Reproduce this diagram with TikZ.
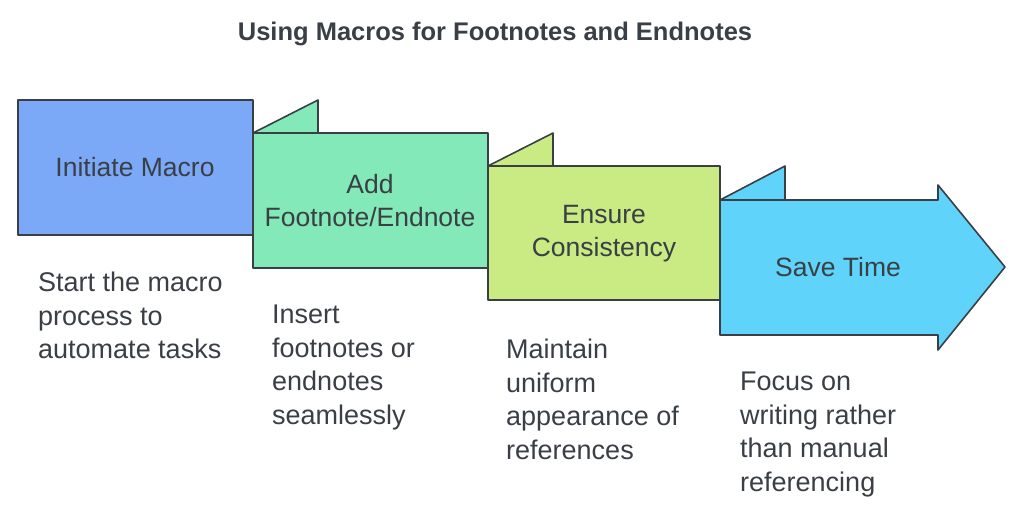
\documentclass[tikz,border=0pt]{standalone}
\usepackage{fontspec}
\setmainfont{Liberation Sans}
\usetikzlibrary{calc}
\definecolor{stepblue}{HTML}{7BA9F8}
\definecolor{stepgreen}{HTML}{84E9B8}
\definecolor{steplime}{HTML}{CAEA84}
\definecolor{stepcyan}{HTML}{5FD3FA}
\definecolor{edge}{HTML}{3A3F45}
\definecolor{ink}{HTML}{3A3F45}
\tikzset{
  panel/.style={draw=edge,line width=1.6pt,line join=round},
  title/.style={font=\fontsize{26.5}{33}\selectfont,text=ink,align=center},
  desc/.style={font=\fontsize{27}{33.5}\selectfont,text=ink,align=left,anchor=north west,inner sep=0pt}
}
\begin{document}
\begin{tikzpicture}[x=1pt,y=-1pt]
    \useasboundingbox (0,0) rectangle (1024,519);
    \node[font=\bfseries\fontsize{25.5}{30}\selectfont,text=ink] (head) at (495,34) {Using Macros for Footnotes and Endnotes};
    % panels
    \draw[panel,fill=stepblue] (18,100) rectangle (253,235);
    \draw[panel,fill=stepgreen] (253,133) -- (318,100) -- (318,133) -- cycle;
    \draw[panel,fill=stepgreen] (253,133) rectangle (488,268);
    \draw[panel,fill=steplime] (488,166) -- (553,133) -- (553,166) -- cycle;
    \draw[panel,fill=steplime] (488,166) rectangle (720,300);
    \draw[panel,fill=stepcyan] (720,200) -- (785,166) -- (785,200) -- cycle;
    \draw[panel,fill=stepcyan] (720,200) -- (938,200) -- (938,185) -- (1005,267)
        -- (938,350) -- (938,335) -- (720,335) -- cycle;
    % labels
    \node[title] (initiate) at (135,167) {Initiate Macro};
    \node[title] (add) at (370,201) {Add\\Footnote/Endnote};
    \node[title] (ensure) at (604,234) {Ensure\\Consistency};
    \node[title] (save) at (838,267) {Save Time};
    \node[desc] (d1) at (38,272) {Start the macro\\process to\\automate tasks};
    \node[desc] (d2) at (272,305) {Insert\\footnotes or\\endnotes\\seamlessly};
    \node[desc] (d3) at (506,339) {Maintain\\uniform\\appearance of\\references};
    \node[desc] (d4) at (740,372) {Focus on\\writing rather\\than manual\\referencing};
\end{tikzpicture}
\end{document}
